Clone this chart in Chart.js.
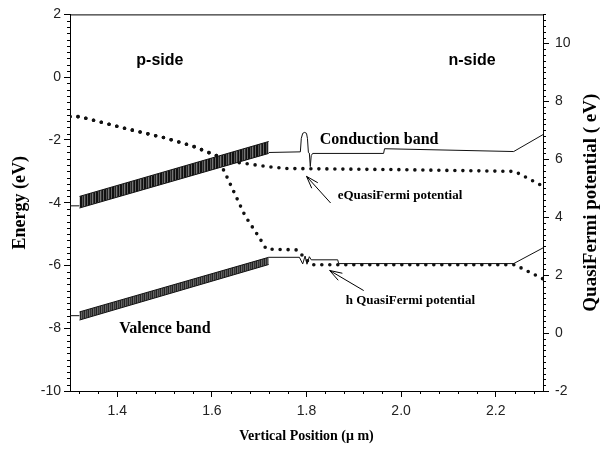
<!DOCTYPE html>
<html>
<head>
<meta charset="utf-8">
<script src="https://cdn.jsdelivr.net/npm/chart.js@4.4.1/dist/chart.umd.min.js"></script>
<style>
  body { margin: 0; background: #fff; }
  canvas { display: block; }
</style>
</head>
<body>
<canvas id="bandChart" width="609" height="461"></canvas>
<script>
// axis ticks
const xTicks = [1.4, 1.6, 1.8, 2.0, 2.2];
const energyTicks = [-10, -8, -6, -4, -2, 0, 2];
const qfTicks = [-2, 0, 2, 4, 6, 8, 10];

// hatched band regions (left axis, eV)
const condBandX = [1.32, 1.72];
const condBandTop = [-3.80, -2.05];
const condBandBottom = [-4.17, -2.43];
const valBandX = [1.32, 1.72];
const valBandTop = [-7.48, -5.74];
const valBandBottom = [-7.74, -5.97];

// solid band lines (left axis, eV)
const condLineX = [1.30, 1.32, 1.321, 1.72, 1.787, 1.789, 1.792, 1.796, 1.800, 1.802, 1.804, 1.806, 1.808, 1.810, 1.813, 1.963, 1.965, 2.238, 2.30];
const condLineY = [-4.1, -4.1, null, -2.40, -2.38, -1.95, -1.79, -1.76, -1.79, -1.95, -2.40, -2.42, -2.85, -2.50, -2.43, -2.43, -2.28, -2.37, -1.83];
const valLineX = [1.30, 1.32, 1.321, 1.72, 1.785, 1.792, 1.797, 1.801, 1.806, 1.81, 1.866, 1.868, 2.238, 2.30];
const valLineY = [-7.6, -7.6, null, -5.74, -5.74, -5.95, -5.70, -5.96, -5.72, -5.82, -5.82, -5.94, -5.94, -5.44];

// quasi-Fermi potentials (right axis, eV)
const eqfX = [1.30, 1.32, 1.42, 1.50, 1.56, 1.61, 1.65, 1.72, 1.76, 2.00, 2.24, 2.30];
const eqfY = [7.47, 7.47, 7.05, 6.74, 6.45, 6.12, 5.90, 5.74, 5.68, 5.64, 5.58, 5.07];
const hqfX = [1.30, 1.32, 1.42, 1.50, 1.56, 1.61, 1.63, 1.67, 1.70, 1.715, 1.78, 1.81, 2.24, 2.30];
const hqfY = [7.47, 7.47, 7.05, 6.74, 6.45, 6.12, 5.45, 4.05, 3.30, 2.90, 2.87, 2.36, 2.36, 1.87];

// text annotations, placed in data units of x / left axis
const notes = [
  { text: "p-side", x: 1.49, y: 0.54, font: 'bold 16px "Liberation Sans"', align: "center" },
  { text: "n-side", x: 2.15, y: 0.54, font: 'bold 16px "Liberation Sans"', align: "center" },
  { text: "Conduction band", x: 1.828, y: -1.99, font: 'bold 16px "Liberation Serif"', align: "left" },
  { text: "eQuasiFermi potential", x: 1.866, y: -3.76, font: 'bold 13px "Liberation Serif"', align: "left" },
  { text: "h QuasiFermi potential", x: 1.883, y: -7.11, font: 'bold 13px "Liberation Serif"', align: "left" },
  { text: "Valence band", x: 1.404, y: -8.03, font: 'bold 16px "Liberation Serif"', align: "left" }
];
const arrows = [
  { x1: 1.851, y1: -4.01, x2: 1.800, y2: -3.16 },
  { x1: 1.921, y1: -6.80, x2: 1.849, y2: -6.16 }
];

function pts(xs, ys) {
  return xs.map((x, i) => ({ x: x, y: ys[i] }));
}

function stripePattern(colors) {
  const c = document.createElement("canvas");
  c.width = colors.length;
  c.height = 1;
  const g = c.getContext("2d");
  colors.forEach((col, i) => {
    g.fillStyle = col;
    g.fillRect(i, 0, 1, 1);
  });
  return g.createPattern(c, "repeat");
}

const condPattern = stripePattern(["#111", "#111", "#555", "#222", "#777", "#333", "#111", "#666"]);
const valPattern = stripePattern(["#222", "#666", "#333", "#555"]);

const solid = { borderColor: "#111", borderWidth: 1, pointRadius: 0, fill: false, spanGaps: false };
const dotted = { borderColor: "#111", borderWidth: 3.6, borderDash: [0, 8], borderCapStyle: "round", pointRadius: 0, fill: false };

const extras = {
  id: "extras",
  afterDraw(chart) {
    const { ctx, chartArea, scales } = chart;
    const x = scales.x, y = scales.y, y2 = scales.y2;
    ctx.save();
    ctx.strokeStyle = "#000";
    ctx.lineWidth = 1;

    // top frame line
    ctx.beginPath();
    ctx.moveTo(chartArea.left, chartArea.top + 0.5);
    ctx.lineTo(chartArea.right, chartArea.top + 0.5);
    ctx.stroke();

    // minor ticks
    ctx.beginPath();
    for (let i = 33; i <= 57; i++) {
      if (i % 5 === 0) continue;
      const px = Math.round(x.getPixelForValue(i * 0.04)) + 0.5;
      ctx.moveTo(px, chartArea.bottom);
      ctx.lineTo(px, chartArea.bottom + 3);
    }
    for (let i = -50; i <= 10; i++) {
      if (i % 10 === 0) continue;
      const py = Math.round(y.getPixelForValue(i * 0.2)) + 0.5;
      ctx.moveTo(chartArea.left - 3, py);
      ctx.lineTo(chartArea.left, py);
    }
    for (let i = -10; i <= 55; i++) {
      if (i % 10 === 0) continue;
      const py = Math.round(y2.getPixelForValue(i * 0.2)) + 0.5;
      ctx.moveTo(chartArea.right, py);
      ctx.lineTo(chartArea.right + 3, py);
    }
    ctx.stroke();

    // annotations
    ctx.fillStyle = "#000";
    ctx.textBaseline = "middle";
    notes.forEach(n => {
      ctx.font = n.font;
      ctx.textAlign = n.align;
      ctx.fillText(n.text, x.getPixelForValue(n.x), y.getPixelForValue(n.y));
    });

    // arrows with open heads
    arrows.forEach(a => {
      const x1 = x.getPixelForValue(a.x1), y1 = y.getPixelForValue(a.y1);
      const x2 = x.getPixelForValue(a.x2), y2p = y.getPixelForValue(a.y2);
      const ang = Math.atan2(y2p - y1, x2 - x1);
      ctx.beginPath();
      ctx.moveTo(x1, y1);
      ctx.lineTo(x2, y2p);
      [0.32, -0.32].forEach(d => {
        ctx.moveTo(x2, y2p);
        ctx.lineTo(x2 - 13 * Math.cos(ang + d), y2p - 13 * Math.sin(ang + d));
      });
      ctx.stroke();
    });

    // right axis title, reading bottom to top
    ctx.save();
    ctx.translate(591, (chartArea.top + chartArea.bottom) / 2);
    ctx.rotate(-Math.PI / 2);
    ctx.font = 'bold 19px "Liberation Serif"';
    ctx.textAlign = "center";
    ctx.fillText("QuasiFermi potential ( eV)", 0, 0);
    ctx.restore();

    ctx.restore();
  }
};

const tickFont = { family: "Liberation Sans", size: 14 };

new Chart(document.getElementById("bandChart"), {
  type: "line",
  data: {
    datasets: [
      { ...solid, data: pts(condBandX, condBandTop), yAxisID: "y" },
      { ...solid, data: pts(condBandX, condBandBottom), yAxisID: "y", fill: "-1", backgroundColor: condPattern },
      { ...solid, data: pts(valBandX, valBandTop), yAxisID: "y" },
      { ...solid, data: pts(valBandX, valBandBottom), yAxisID: "y", fill: "-1", backgroundColor: valPattern },
      { ...solid, data: pts(condLineX, condLineY), yAxisID: "y" },
      { ...solid, data: pts(valLineX, valLineY), yAxisID: "y" },
      { ...dotted, data: pts(eqfX, eqfY), yAxisID: "y2" },
      { ...dotted, data: pts(hqfX, hqfY), yAxisID: "y2" }
    ]
  },
  options: {
    responsive: false,
    animation: false,
    devicePixelRatio: 1,
    layout: { padding: { top: 12 } },
    plugins: { legend: { display: false }, tooltip: { enabled: false } },
    scales: {
      x: {
        type: "linear",
        min: 1.3,
        max: 2.3,
        afterBuildTicks: s => { s.ticks = xTicks.map(v => ({ value: v })); },
        afterFit: s => { s.height = 70; },
        ticks: { font: tickFont, color: "#222", padding: 6, maxRotation: 0, callback: v => v.toFixed(1) },
        grid: { drawOnChartArea: false, tickLength: 6, color: "#000" },
        border: { color: "#000" },
        title: { display: true, text: "Vertical Position (\u03bc m)", color: "#000",
                 font: { family: "Liberation Serif", size: 14, weight: "bold" }, padding: { bottom: 16 } }
      },
      y: {
        type: "linear",
        position: "left",
        min: -10,
        max: 2,
        afterBuildTicks: s => { s.ticks = energyTicks.map(v => ({ value: v })); },
        afterFit: s => { s.width = 70; },
        ticks: { font: tickFont, color: "#222", padding: 3 },
        grid: { drawOnChartArea: false, tickLength: 6, color: "#000" },
        border: { color: "#000" },
        title: { display: true, text: "Energy (eV)", color: "#000",
                 font: { family: "Liberation Serif", size: 18, weight: "bold" }, padding: { top: 10 } }
      },
      y2: {
        type: "linear",
        position: "right",
        min: -2,
        max: 11,
        afterBuildTicks: s => { s.ticks = qfTicks.map(v => ({ value: v })); },
        afterFit: s => { s.width = 66; },
        ticks: { font: tickFont, color: "#222", padding: 6 },
        grid: { drawOnChartArea: false, tickLength: 6, color: "#000" },
        border: { color: "#000" }
      }
    }
  },
  plugins: [extras]
});
</script>
</body>
</html>
